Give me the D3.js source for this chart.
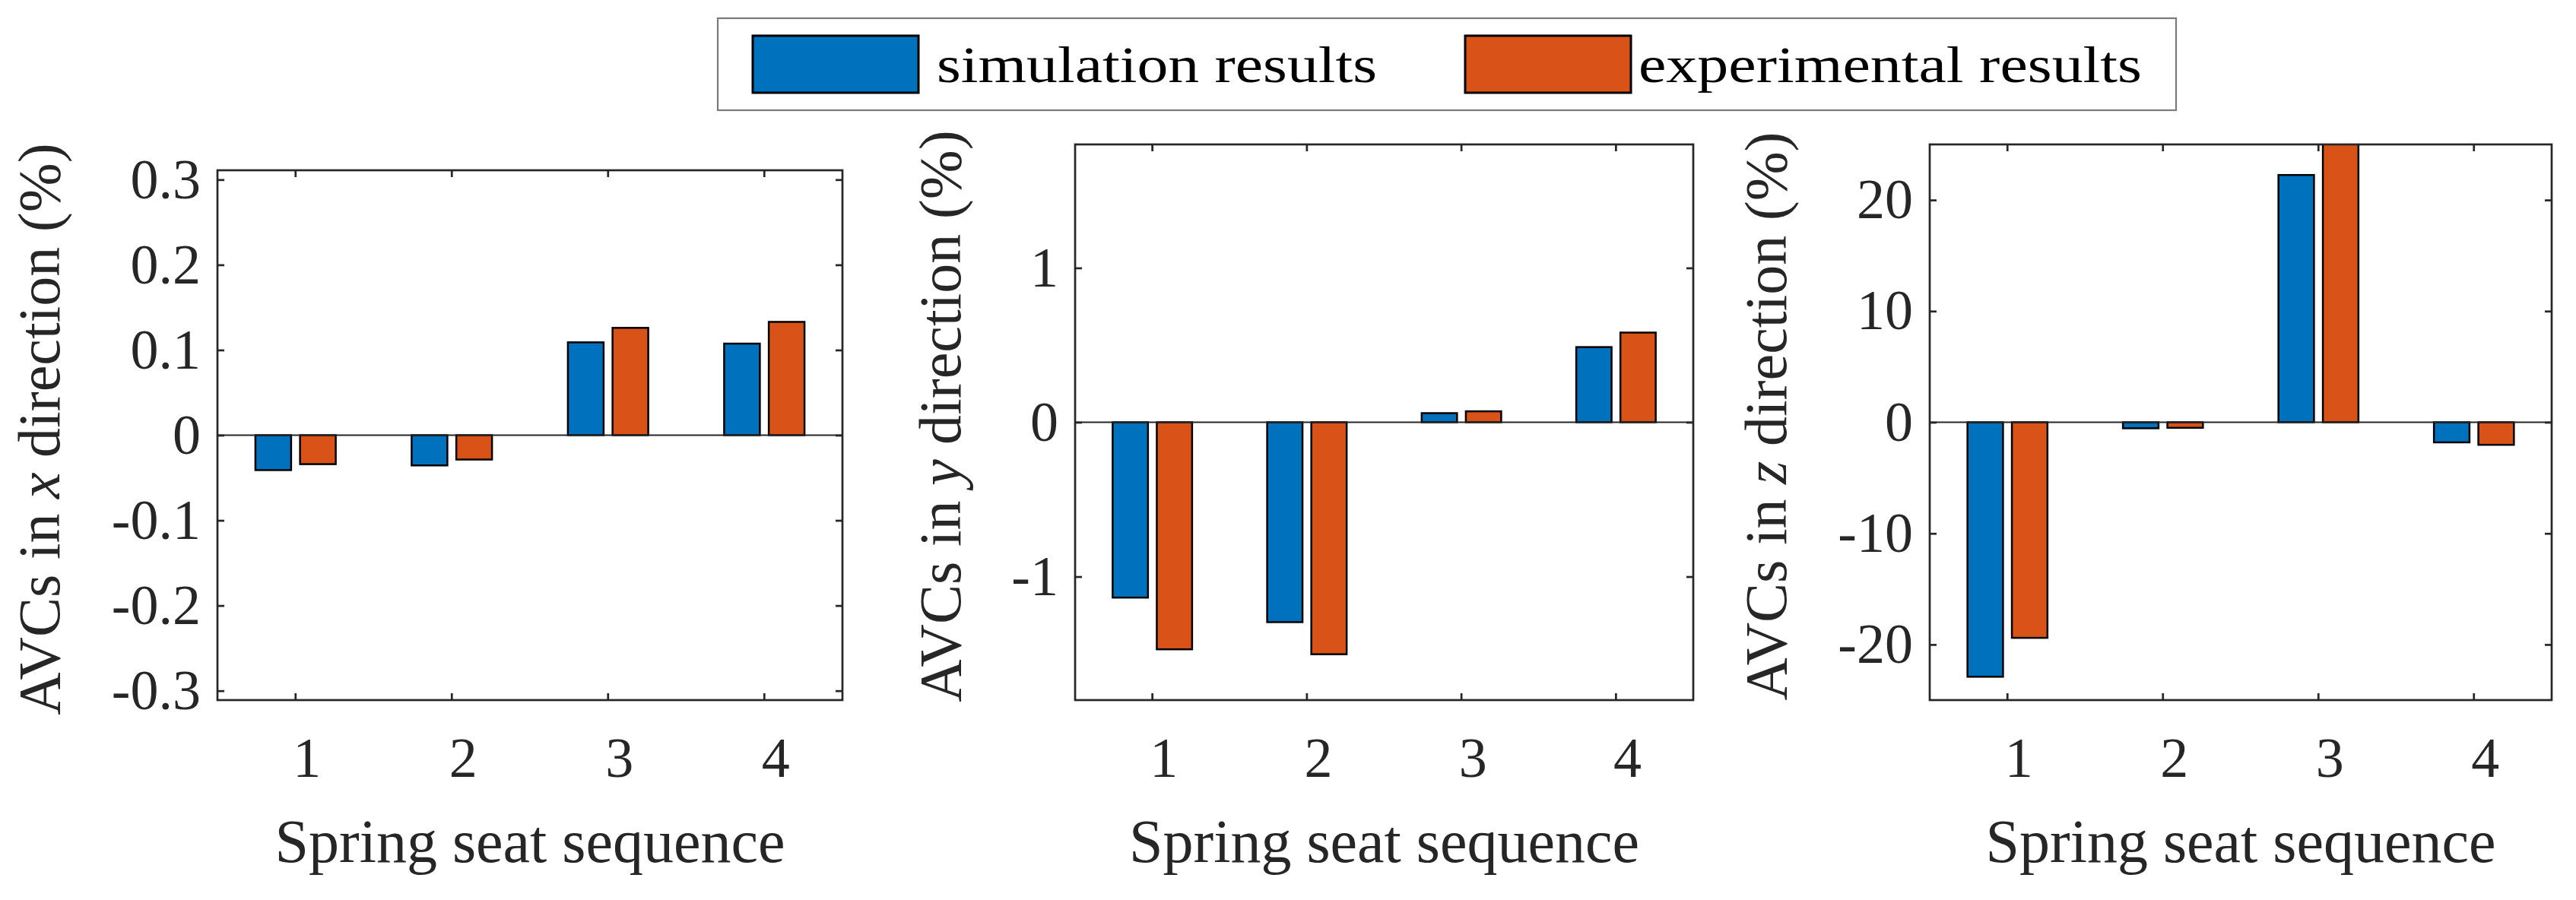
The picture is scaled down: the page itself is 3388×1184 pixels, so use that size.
<!DOCTYPE html>
<html>
<head>
<meta charset="utf-8">
<script src="https://cdn.jsdelivr.net/npm/d3@7"></script>
<style>
  html, body { margin: 0; padding: 0; background: #fff; }
  svg { display: block; font-family: "Liberation Serif", "DejaVu Serif", serif; }
</style>
</head>
<body>
<div id="chart"></div>
<script>
(function(){
    // data
    const categories = ["1", "2", "3", "4"];
    const seriesNames = ["simulation results", "experimental results"];
    const seriesColors = ["#0072BD", "#D95319"];

    const xSim = [-0.041, -0.0355, 0.109, 0.1075];
    const xExp = [-0.034, -0.0286, 0.126, 0.133];
    const ySim = [-1.136, -1.295, 0.059, 0.487];
    const yExp = [-1.471, -1.503, 0.071, 0.581];
    const zSim = [-22.9, -0.54, 22.25, -1.81];
    const zExp = [-19.4, -0.5, 26.0, -2.03];

    const xTicks = [-0.3, -0.2, -0.1, 0, 0.1, 0.2, 0.3];
    const yTicks = [-1, 0, 1];
    const zTicks = [-20, -10, 0, 10, 20];

    const width = 3388, height = 1184;
    const axisColor = "#262626";

    const panels = [
        { dir: "x", sim: xSim, exp: xExp, ticks: xTicks, domain: [-0.311, 0.311],
          box: { l: 286, r: 1108, t: 224, b: 921 }, labelX: 78 },
        { dir: "y", sim: ySim, exp: yExp, ticks: yTicks, domain: [-1.8, 1.8],
          box: { l: 1414, r: 2227, t: 190, b: 921 }, labelX: 1263 },
        { dir: "z", sim: zSim, exp: zExp, ticks: zTicks, domain: [-25, 25],
          box: { l: 2538, r: 3356, t: 190, b: 921 }, labelX: 2349 }
    ];

    const svg = d3.select("#chart").append("svg")
        .attr("width", width)
        .attr("height", height)
        .attr("viewBox", `0 0 ${width} ${height}`);

    svg.append("rect").attr("width", width).attr("height", height).attr("fill", "#fff");

    panels.forEach(function(p, i) {
        const b = p.box;
        const x = d3.scaleBand().domain(categories).range([b.l, b.r]).padding(0);
        const groupW = 0.5714 * x.bandwidth();
        const xs = d3.scaleBand().domain(seriesNames)
            .range([-groupW / 2, groupW / 2])
            .paddingInner(0.2).paddingOuter(0.1);
        const y = d3.scaleLinear().domain(p.domain).range([b.b, b.t]);

        const g = svg.append("g");

        svg.append("clipPath").attr("id", "clip" + i)
            .append("rect")
            .attr("x", b.l).attr("y", b.t)
            .attr("width", b.r - b.l).attr("height", b.b - b.t);

        const rows = categories.map((c, k) => ({ c: c, vals: [p.sim[k], p.exp[k]] }));

        const bars = g.append("g").attr("clip-path", `url(#clip${i})`);
        bars.selectAll("g")
            .data(rows)
            .join("g")
            .attr("transform", d => `translate(${x(d.c) + x.bandwidth() / 2},0)`)
            .selectAll("rect")
            .data(d => d.vals.map((v, s) => ({ v: v, s: s })))
            .join("rect")
            .attr("x", d => xs(seriesNames[d.s]))
            .attr("width", xs.bandwidth())
            .attr("y", d => Math.min(y(d.v), y(0)))
            .attr("height", d => Math.abs(y(d.v) - y(0)))
            .attr("fill", d => seriesColors[d.s])
            .attr("stroke", "#000")
            .attr("stroke-width", 2.5);

        // zero baseline
        g.append("line")
            .attr("x1", b.l).attr("x2", b.r)
            .attr("y1", y(0)).attr("y2", y(0))
            .attr("stroke", axisColor).attr("stroke-width", 2);

        // box
        g.append("rect")
            .attr("x", b.l).attr("y", b.t)
            .attr("width", b.r - b.l).attr("height", b.b - b.t)
            .attr("fill", "none").attr("stroke", axisColor).attr("stroke-width", 2.7);

        // axes with inward ticks
        const left = g.append("g").attr("transform", `translate(${b.l},0)`)
            .call(d3.axisLeft(y).tickValues(p.ticks).tickSizeInner(-9).tickSizeOuter(0)
                .tickPadding(22).tickFormat(d => d === 0 ? "0" : String(d)));
        g.append("g").attr("transform", `translate(${b.r},0)`)
            .call(d3.axisRight(y).tickValues(p.ticks).tickSizeInner(-9).tickSizeOuter(0)
                .tickFormat(""));
        const bottom = g.append("g").attr("transform", `translate(0,${b.b})`)
            .call(d3.axisBottom(x).tickSizeInner(-9).tickSizeOuter(0).tickPadding(48));
        g.append("g").attr("transform", `translate(0,${b.t})`)
            .call(d3.axisTop(x).tickSizeInner(-9).tickSizeOuter(0).tickFormat(""));

        g.selectAll(".domain").remove();
        g.selectAll(".tick line").attr("stroke", axisColor).attr("stroke-width", 2.7);
        left.selectAll("text")
            .attr("font-family", "Liberation Serif, serif")
            .attr("font-size", 74).attr("fill", axisColor);
        bottom.selectAll("text")
            .attr("font-family", "Liberation Serif, serif")
            .attr("font-size", 74).attr("fill", axisColor)
            .attr("dx", 15);

        // x label
        g.append("text")
            .attr("x", (b.l + b.r) / 2)
            .attr("y", 1134)
            .attr("text-anchor", "middle")
            .attr("font-size", 80)
            .attr("fill", axisColor)
            .text("Spring seat sequence");

        // y label
        const cy = (b.t + b.b) / 2 - 8;
        const yl = g.append("text")
            .attr("transform", `translate(${p.labelX},${cy}) rotate(-90)`)
            .attr("text-anchor", "middle")
            .attr("font-size", 78)
            .attr("fill", axisColor);
        yl.append("tspan").text("AVCs in ");
        yl.append("tspan").attr("font-style", "italic").text(p.dir);
        yl.append("tspan").text(" direction (%)");
    });

    // legend
    const leg = svg.append("g");
    leg.append("rect")
        .attr("x", 944).attr("y", 24)
        .attr("width", 2862 - 944).attr("height", 145 - 24)
        .attr("fill", "#fff").attr("stroke", "#7a7a7a").attr("stroke-width", 2.2);

    const legItems = [
        { name: seriesNames[0], color: seriesColors[0], px: 990, tx: 1232, tw: 579 },
        { name: seriesNames[1], color: seriesColors[1], px: 1927, tx: 2155, tw: 662 }
    ];
    leg.selectAll("rect.patch")
        .data(legItems)
        .join("rect")
        .attr("class", "patch")
        .attr("x", d => d.px).attr("y", 47)
        .attr("width", 218).attr("height", 75)
        .attr("fill", d => d.color)
        .attr("stroke", "#000").attr("stroke-width", 3);
    leg.selectAll("text")
        .data(legItems)
        .join("text")
        .attr("x", d => d.tx).attr("y", 108)
        .attr("font-size", 68)
        .attr("fill", "#000")
        .attr("textLength", d => d.tw)
        .attr("lengthAdjust", "spacingAndGlyphs")
        .text(d => d.name);
})();
</script>
</body>
</html>
